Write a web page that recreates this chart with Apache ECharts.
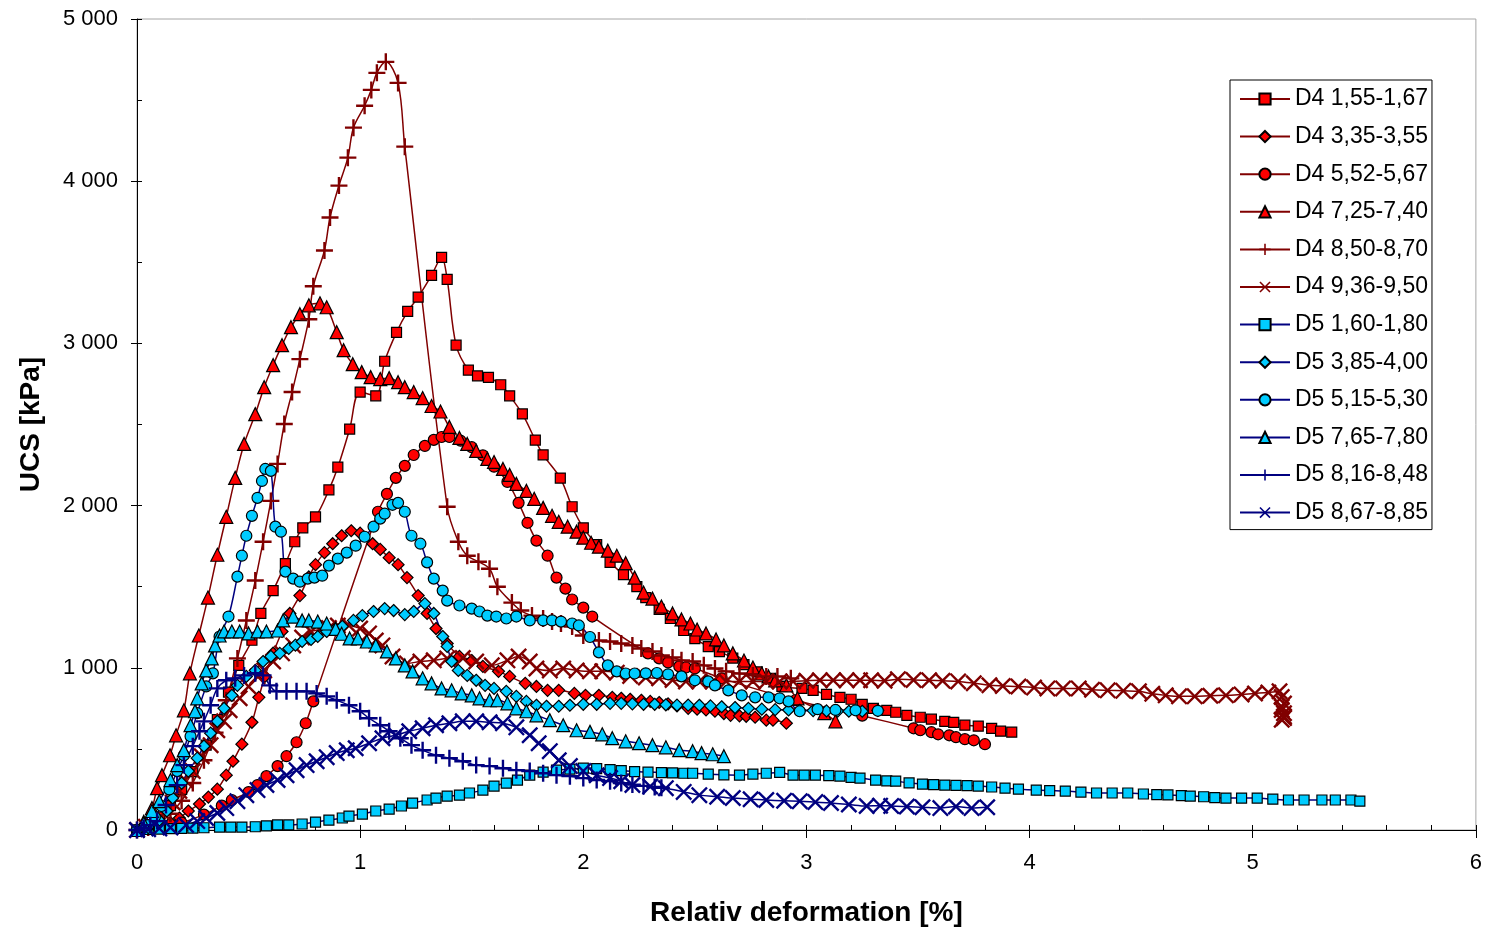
<!DOCTYPE html>
<html>
<head>
<meta charset="utf-8">
<title>UCS vs relativ deformation</title>
<script src="https://cdn.jsdelivr.net/npm/echarts@6.0.0/dist/echarts.min.js"></script>
<style>
  html, body { margin: 0; padding: 0; background: #fff; }
  #chart { width: 1485px; height: 932px; }
</style>
</head>
<body>
<div id="chart"></div>
<script>
// [relativ deformation %, UCS kPa]
const d4_155 = [[0,0],[0.05,30],[0.1,80],[0.15,150],[0.2,250],[0.25,360],[0.31,523],[0.36,680],[0.41,850],[0.456,1015],[0.515,1170],[0.555,1335],[0.61,1476],[0.665,1642],[0.707,1777],[0.743,1863],[0.80,1930],[0.86,2097],[0.90,2237],[0.953,2472],[1.0,2700],[1.07,2677],[1.11,2890],[1.163,3068],[1.213,3197],[1.26,3285],[1.32,3420],[1.365,3530],[1.39,3395],[1.43,2989],[1.485,2835],[1.526,2800],[1.575,2790],[1.63,2745],[1.67,2677],[1.727,2565],[1.785,2404],[1.82,2313],[1.897,2170],[1.95,1993],[2.0,1863],[2.06,1760],[2.12,1650],[2.18,1574],[2.24,1500],[2.28,1433],[2.34,1360],[2.39,1304],[2.45,1230],[2.5,1180],[2.56,1131],[2.61,1100],[2.67,1060],[2.72,1020],[2.78,975],[2.84,935],[2.89,885],[2.98,873],[3.03,861],[3.09,836],[3.15,818],[3.2,806],[3.25,775],[3.30,750],[3.36,738],[3.40,726],[3.45,707],[3.51,695],[3.56,683],[3.62,670],[3.66,664],[3.71,646],[3.77,640],[3.83,627],[3.87,609],[3.92,603]]
const d4_335 = [[0,0],[0.05,10],[0.1,25],[0.15,45],[0.19,74],[0.23,117],[0.28,160],[0.32,203],[0.36,252],[0.40,338],[0.43,424],[0.47,529],[0.515,664],[0.546,818],[0.573,947],[0.61,1090],[0.65,1224],[0.685,1335],[0.73,1445],[0.77,1560],[0.80,1636],[0.84,1710],[0.877,1765],[0.917,1814],[0.96,1845],[1.0,1830],[1.056,1765],[1.09,1730],[1.13,1679],[1.17,1636],[1.21,1556],[1.26,1445],[1.30,1335],[1.34,1242],[1.39,1150],[1.445,1070],[1.50,1045],[1.55,1009],[1.62,978],[1.67,947],[1.74,904],[1.79,885],[1.84,861],[1.89,861],[1.96,842],[2.01,830],[2.07,830],[2.13,818],[2.17,812],[2.21,806],[2.26,800],[2.30,793],[2.34,786],[2.38,778],[2.42,765],[2.47,750],[2.51,745],[2.55,740],[2.59,732],[2.63,718],[2.66,707],[2.70,704],[2.73,701],[2.77,695],[2.82,677],[2.85,677],[2.91,658]]
const d4_552 = [[0,0],[0.1,15],[0.2,45],[0.3,95],[0.38,150],[0.425,185],[0.50,234],[0.54,277],[0.58,332],[0.63,394],[0.67,455],[0.715,541],[0.756,658],[0.79,793],[1.08,1962],[1.12,2072],[1.16,2171],[1.20,2245],[1.24,2312],[1.29,2368],[1.33,2405],[1.365,2423],[1.40,2423],[1.45,2400],[1.50,2360],[1.55,2310],[1.60,2240],[1.66,2146],[1.71,2017],[1.75,1894],[1.79,1784],[1.84,1691],[1.88,1556],[1.92,1488],[1.95,1421],[2.0,1371],[2.04,1316],[2.29,1089],[2.34,1058],[2.38,1033],[2.43,1009],[2.46,1002],[2.50,996],[2.62,935],[2.95,800],[3.25,705],[3.48,627],[3.51,615],[3.56,603],[3.59,590],[3.64,584],[3.67,572],[3.71,560],[3.75,553],[3.80,529]]
const d4_725 = [[0,0],[0.03,50],[0.067,135],[0.09,258],[0.112,338],[0.148,461],[0.175,584],[0.21,738],[0.237,966],[0.277,1199],[0.318,1433],[0.36,1697],[0.40,1931],[0.44,2171],[0.48,2380],[0.53,2564],[0.57,2730],[0.61,2866],[0.65,2989],[0.69,3100],[0.73,3180],[0.77,3235],[0.82,3247],[0.85,3223],[0.895,3069],[0.926,2958],[0.967,2872],[1.007,2823],[1.047,2792],[1.09,2780],[1.13,2786],[1.17,2761],[1.20,2730],[1.24,2700],[1.28,2663],[1.32,2614],[1.36,2580],[1.40,2485],[1.445,2417],[1.48,2380],[1.52,2337],[1.57,2288],[1.60,2269],[1.64,2226],[1.67,2189],[1.70,2134],[1.745,2091],[1.78,2042],[1.82,1986],[1.86,1937],[1.89,1900],[1.93,1870],[1.97,1839],[2.0,1802],[2.035,1771],[2.07,1747],[2.11,1722],[2.15,1691],[2.19,1645],[2.23,1556],[2.27,1464],[2.31,1427],[2.35,1378],[2.40,1335],[2.44,1298],[2.48,1273],[2.51,1236],[2.55,1212],[2.595,1175],[2.63,1138],[2.67,1089],[2.72,1045],[2.76,1002],[2.80,965],[2.83,947],[2.86,922],[2.91,892],[2.96,812],[3.08,720],[3.13,670]]
const d4_850 = [[0,0],[0.05,15],[0.1,45],[0.15,100],[0.2,180],[0.25,290],[0.3,430],[0.35,600],[0.40,800],[0.45,1058],[0.49,1292],[0.53,1538],[0.565,1777],[0.60,2029],[0.63,2257],[0.66,2503],[0.695,2700],[0.73,2903],[0.77,3149],[0.79,3352],[0.84,3573],[0.865,3776],[0.905,3973],[0.945,4145],[0.97,4330],[1.02,4465],[1.05,4563],[1.075,4668],[1.115,4736],[1.17,4606],[1.20,4213],[1.39,1993],[1.44,1777],[1.48,1691],[1.53,1654],[1.58,1611],[1.615,1500],[1.68,1402],[1.72,1353],[1.77,1322],[1.82,1304],[1.86,1285],[1.90,1273],[1.95,1255],[2.0,1199],[2.07,1168],[2.12,1162],[2.17,1150],[2.22,1138],[2.26,1119],[2.31,1101],[2.35,1076],[2.40,1064],[2.44,1046],[2.49,1039],[2.54,1015],[2.59,996],[2.64,978],[2.70,965],[2.76,953],[2.82,947],[2.87,947],[2.93,935]]
const d4_936 = [[0,0],[0.04,20],[0.08,50],[0.12,100],[0.16,170],[0.19,240],[0.215,308],[0.25,363],[0.29,455],[0.33,523],[0.36,615],[0.39,670],[0.415,738],[0.46,812],[0.50,885],[0.54,947],[0.57,984],[0.61,1039],[0.65,1089],[0.70,1138],[0.74,1187],[0.78,1224],[0.82,1236],[0.86,1245],[0.90,1261],[0.95,1261],[1.0,1242],[1.04,1212],[1.07,1168],[1.10,1138],[1.145,1070],[1.21,1027],[1.27,1039],[1.33,1046],[1.39,1058],[1.46,1060],[1.52,1039],[1.59,1015],[1.66,1046],[1.71,1070],[1.76,1039],[1.79,996],[1.85,984],[1.91,996],[1.97,984],[2.03,978],[2.085,978],[2.15,970],[2.21,950],[2.28,940],[2.34,935],[2.40,925],[2.46,916],[2.52,916],[2.58,916],[2.64,916],[2.70,916],[2.76,916],[2.82,916],[2.88,916],[2.94,916],[3.0,920],[3.06,923],[3.12,923],[3.18,923],[3.24,923],[3.29,923],[3.35,920],[3.41,930],[3.48,925],[3.55,923],[3.61,920],[3.68,916],[3.75,905],[3.82,892],[3.88,888],[3.95,885],[4.02,878],[4.08,873],[4.15,873],[4.22,873],[4.28,865],[4.35,861],[4.42,858],[4.49,855],[4.55,840],[4.61,830],[4.67,824],[4.74,824],[4.81,828],[4.88,830],[4.95,836],[5.01,842],[5.07,848],[5.12,855],[5.13,820],[5.14,780],[5.13,740],[5.14,700],[5.13,680],[5.14,720],[5.13,760],[5.14,690]]
const d5_160 = [[0,0],[0.05,3],[0.1,6],[0.15,8],[0.2,10],[0.25,12],[0.3,14],[0.37,18],[0.42,18],[0.47,18],[0.53,20],[0.58,25],[0.63,31],[0.68,31],[0.74,37],[0.80,49],[0.86,61],[0.92,74],[0.95,86],[1.01,98],[1.07,117],[1.13,129],[1.185,148],[1.235,166],[1.30,185],[1.34,197],[1.39,209],[1.445,215],[1.49,228],[1.55,246],[1.60,271],[1.655,289],[1.705,308],[1.76,338],[1.82,357],[1.88,369],[1.94,375],[2.0,381],[2.06,378],[2.12,372],[2.17,366],[2.23,360],[2.29,357],[2.35,354],[2.40,352],[2.45,350],[2.49,350],[2.56,344],[2.63,340],[2.70,338],[2.76,345],[2.82,350],[2.88,355],[2.94,338],[2.99,338],[3.04,338],[3.10,335],[3.15,332],[3.20,325],[3.24,320],[3.31,308],[3.36,303],[3.40,301],[3.46,290],[3.52,283],[3.57,280],[3.62,277],[3.67,275],[3.72,273],[3.77,271],[3.83,265],[3.89,258],[3.95,252],[4.03,246],[4.09,243],[4.16,240],[4.23,234],[4.30,228],[4.37,228],[4.44,228],[4.51,222],[4.57,218],[4.62,216],[4.68,212],[4.72,209],[4.78,205],[4.83,200],[4.88,197],[4.95,197],[5.02,197],[5.09,190],[5.16,185],[5.23,185],[5.31,185],[5.37,185],[5.44,185],[5.48,178]]
const d5_385 = [[0,0],[0.05,15],[0.1,60],[0.134,117],[0.16,197],[0.20,289],[0.23,363],[0.27,443],[0.30,517],[0.33,597],[0.36,670],[0.39,750],[0.425,830],[0.45,892],[0.49,947],[0.53,984],[0.565,1039],[0.60,1070],[0.64,1089],[0.68,1119],[0.71,1140],[0.74,1162],[0.78,1175],[0.81,1193],[0.85,1224],[0.89,1242],[0.92,1255],[0.97,1292],[1.01,1322],[1.06,1347],[1.11,1365],[1.15,1353],[1.20,1328],[1.24,1347],[1.29,1396],[1.33,1335],[1.37,1193],[1.39,1132],[1.41,1039],[1.44,984],[1.48,953],[1.52,923],[1.56,892],[1.60,873],[1.655,855],[1.70,824],[1.745,793],[1.79,769],[1.835,763],[1.89,763],[1.94,769],[2.0,775],[2.06,775],[2.12,781],[2.17,781],[2.22,778],[2.27,775],[2.32,775],[2.37,772],[2.42,770],[2.47,770],[2.52,769],[2.57,765],[2.62,760],[2.68,755],[2.74,750],[2.80,745],[2.86,742],[2.92,740],[2.97,738],[3.03,736],[3.09,734],[3.14,733],[3.19,732],[3.25,732],[3.32,738]]
const d5_515 = [[0,0],[0.05,30],[0.08,80],[0.11,148],[0.145,250],[0.18,363],[0.21,461],[0.24,578],[0.27,720],[0.31,885],[0.34,966],[0.37,1193],[0.41,1316],[0.45,1562],[0.47,1691],[0.49,1814],[0.515,1937],[0.54,2048],[0.56,2152],[0.575,2226],[0.60,2214],[0.62,1870],[0.645,1839],[0.665,1593],[0.70,1550],[0.73,1531],[0.765,1550],[0.795,1556],[0.83,1568],[0.86,1630],[0.90,1673],[0.94,1710],[0.98,1753],[1.02,1808],[1.06,1870],[1.09,1920],[1.11,1950],[1.145,2005],[1.17,2017],[1.20,1962],[1.23,1814],[1.27,1765],[1.30,1650],[1.33,1550],[1.37,1476],[1.39,1414],[1.445,1384],[1.50,1365],[1.535,1347],[1.57,1322],[1.61,1316],[1.655,1304],[1.70,1316],[1.76,1292],[1.82,1292],[1.86,1292],[1.90,1285],[1.95,1273],[1.98,1261],[2.03,1190],[2.07,1095],[2.11,1015],[2.15,978],[2.19,965],[2.23,965],[2.28,966],[2.33,968],[2.38,960],[2.44,947],[2.50,923],[2.56,916],[2.59,892],[2.65,861],[2.71,830],[2.77,818],[2.83,818],[2.88,812],[2.92,793],[2.97,732],[3.05,745],[3.13,740],[3.22,738],[3.32,735]]
const d5_765 = [[0,0],[0.03,40],[0.067,117],[0.10,178],[0.15,308],[0.18,400],[0.21,492],[0.24,646],[0.26,732],[0.27,812],[0.29,904],[0.31,984],[0.335,1058],[0.35,1138],[0.37,1199],[0.39,1224],[0.425,1224],[0.46,1224],[0.50,1212],[0.54,1224],[0.58,1224],[0.63,1230],[0.655,1292],[0.70,1316],[0.74,1292],[0.77,1292],[0.81,1285],[0.85,1273],[0.89,1240],[0.917,1210],[0.953,1181],[0.99,1181],[1.03,1162],[1.07,1138],[1.12,1101],[1.16,1058],[1.20,1015],[1.235,978],[1.28,935],[1.32,904],[1.365,873],[1.41,861],[1.455,842],[1.50,830],[1.535,812],[1.58,800],[1.615,800],[1.66,781],[1.70,750],[1.745,732],[1.79,707],[1.85,677],[1.91,646],[1.97,615],[2.03,605],[2.085,590],[2.13,566],[2.19,547],[2.25,535],[2.31,523],[2.37,510],[2.43,492],[2.49,486],[2.53,474],[2.58,467],[2.63,455]]
const d5_816 = [[0,0],[0.03,12],[0.06,30],[0.09,55],[0.13,154],[0.18,277],[0.21,400],[0.25,517],[0.28,609],[0.30,670],[0.33,769],[0.36,873],[0.40,923],[0.44,935],[0.48,953],[0.53,966],[0.565,953],[0.595,892],[0.625,855],[0.67,855],[0.715,855],[0.76,855],[0.805,842],[0.85,824],[0.895,800],[0.95,769],[1.0,732],[1.04,689],[1.09,646],[1.13,609],[1.18,566],[1.23,523],[1.28,492],[1.34,461],[1.40,443],[1.46,424],[1.52,400],[1.58,394],[1.64,381],[1.70,369],[1.76,363],[1.82,350],[1.88,338],[1.94,332],[2.0,320],[2.06,308],[2.12,301],[2.17,289],[2.22,280],[2.27,272],[2.32,265],[2.35,260]]
const d5_867 = [[0,0],[0.05,5],[0.1,10],[0.15,15],[0.22,31],[0.27,55],[0.31,74],[0.36,105],[0.40,135],[0.45,178],[0.49,215],[0.54,246],[0.58,277],[0.63,308],[0.67,338],[0.715,369],[0.76,400],[0.805,424],[0.85,449],[0.895,474],[0.94,492],[0.98,504],[1.04,535],[1.10,566],[1.16,584],[1.22,609],[1.28,627],[1.34,646],[1.40,658],[1.46,670],[1.52,670],[1.58,664],[1.64,658],[1.70,633],[1.76,584],[1.80,535],[1.85,486],[1.89,430],[1.94,394],[2.0,363],[2.06,338],[2.12,320],[2.17,301],[2.22,277],[2.30,268],[2.37,258],[2.45,235],[2.52,215],[2.60,205],[2.67,197],[2.75,190],[2.82,185],[2.90,180],[2.97,178],[3.04,172],[3.11,166],[3.19,157],[3.27,148],[3.33,150],[3.38,148],[3.45,145],[3.52,140],[3.60,135],[3.67,145],[3.74,135],[3.81,140]]

const seriesNames = ['D4 1,55-1,67', 'D4 3,35-3,55', 'D4 5,52-5,67', 'D4 7,25-7,40', 'D4 8,50-8,70', 'D4 9,36-9,50',
  'D5 1,60-1,80', 'D5 3,85-4,00', 'D5 5,15-5,30', 'D5 7,65-7,80', 'D5 8,16-8,48', 'D5 8,67-8,85']

const D4_LINE = '#800000'
const D4_FILL = '#ff0000'
const D5_LINE = '#000080'
const D5_FILL = '#00ccff'
const FONT = 'Liberation Sans, Arial, sans-serif'

const PLUS = 'path://M0,4.3H10V5.7H0Z M4.3,0H5.7V10H4.3Z'
const CROSS = 'path://M1,0L5,4L9,0L10,1L6,5L10,9L9,10L5,6L1,10L0,9L4,5L0,1Z'

function makeSeries(name, data, symbol, size, lineColor, fill) {
  const open = symbol === PLUS || symbol === CROSS
  return {
    name,
    type: 'line',
    data,
    smooth: 0.35,
    symbol,
    symbolSize: size,
    showAllSymbol: true,
    lineStyle: { color: lineColor, width: 1.5 },
    itemStyle: open
      ? { color: lineColor, borderWidth: 0 }
      : { color: fill, borderColor: '#000', borderWidth: 1.2 },
    emphasis: { disabled: true }
  }
}

const chart = echarts.init(document.getElementById('chart'))
chart.setOption({
  animation: false,
  backgroundColor: '#fff',
  textStyle: { fontFamily: FONT },
  grid: {
    left: 137,
    right: 7,
    top: 19,
    bottom: 100,
    show: true,
    borderColor: '#a6a6a6',
    borderWidth: 1
  },
  legend: {
    orient: 'vertical',
    left: 1230,
    top: 80,
    padding: [7, 4, 5, 9],
    itemWidth: 50,
    itemHeight: 14,
    itemGap: 13.6,
    borderColor: '#000',
    borderWidth: 1,
    backgroundColor: '#fff',
    selectedMode: false,
    data: seriesNames,
    textStyle: { fontFamily: FONT, fontSize: 23, color: '#000', lineHeight: 24 }
  },
  xAxis: [
    {
      type: 'value',
      min: 0,
      max: 6,
      interval: 1,
      name: 'Relativ deformation [%]',
      nameLocation: 'middle',
      nameGap: 69,
      nameTextStyle: { fontFamily: FONT, fontSize: 28, fontWeight: 'bold', color: '#000' },
      axisLine: { show: true, lineStyle: { color: '#000', width: 1 } },
      axisTick: { show: true, length: 8, lineStyle: { color: '#000' } },
      axisLabel: { margin: 22, fontFamily: FONT, fontSize: 22, color: '#000' },
      splitLine: { show: false }
    },
    {
      type: 'value',
      min: 0,
      max: 6,
      interval: 0.2,
      position: 'bottom',
      axisLine: { show: false },
      axisTick: { show: true, inside: true, length: 5, lineStyle: { color: '#000' } },
      axisLabel: { show: false },
      splitLine: { show: false }
    }
  ],
  yAxis: [
    {
      type: 'value',
      min: 0,
      max: 5000,
      interval: 1000,
      name: 'UCS [kPa]',
      nameLocation: 'middle',
      nameGap: 92,
      nameTextStyle: { fontFamily: FONT, fontSize: 28, fontWeight: 'bold', color: '#000' },
      axisLine: { show: true, lineStyle: { color: '#000', width: 1 } },
      axisTick: { show: true, length: 6, lineStyle: { color: '#000' } },
      axisLabel: {
        margin: 19,
        fontFamily: FONT,
        fontSize: 22,
        color: '#000',
        formatter: v => String(v).replace(/\B(?=(\d{3})+(?!\d))/g, ' ')
      },
      splitLine: { show: false }
    },
    {
      type: 'value',
      min: 0,
      max: 5000,
      interval: 500,
      position: 'left',
      axisLine: { show: false },
      axisTick: { show: true, inside: true, length: 5, lineStyle: { color: '#000' } },
      axisLabel: { show: false },
      splitLine: { show: false }
    }
  ],
  series: [
    makeSeries(seriesNames[0], d4_155, 'rect', 10, D4_LINE, D4_FILL),
    makeSeries(seriesNames[1], d4_335, 'diamond', 12, D4_LINE, D4_FILL),
    makeSeries(seriesNames[2], d4_552, 'circle', 11, D4_LINE, D4_FILL),
    makeSeries(seriesNames[3], d4_725, 'triangle', 13, D4_LINE, D4_FILL),
    makeSeries(seriesNames[4], d4_850, PLUS, 17, D4_LINE, D4_LINE),
    makeSeries(seriesNames[5], d4_936, CROSS, 17, D4_LINE, D4_LINE),
    makeSeries(seriesNames[6], d5_160, 'rect', 10, D5_LINE, D5_FILL),
    makeSeries(seriesNames[7], d5_385, 'diamond', 12, D5_LINE, D5_FILL),
    makeSeries(seriesNames[8], d5_515, 'circle', 11, D5_LINE, D5_FILL),
    makeSeries(seriesNames[9], d5_765, 'triangle', 13, D5_LINE, D5_FILL),
    makeSeries(seriesNames[10], d5_816, PLUS, 17, D5_LINE, D5_LINE),
    makeSeries(seriesNames[11], d5_867, CROSS, 17, D5_LINE, D5_LINE)
  ]
})
</script>
</body>
</html>
